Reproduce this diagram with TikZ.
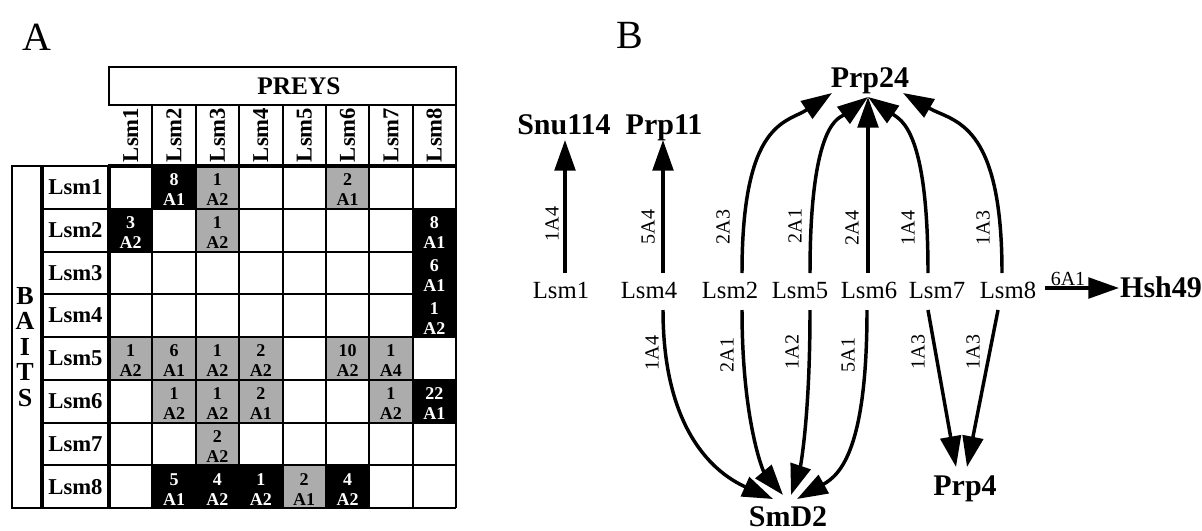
\documentclass[tikz,border=0pt]{standalone}
\usepackage{fontspec}
\setmainfont{Liberation Serif}
\usetikzlibrary{arrows.meta}
\definecolor{cellgray}{RGB}{172,172,172}

\begin{document}
\begin{tikzpicture}[x=0.75pt,y=-0.75pt,
  panel/.style={font=\fontsize{30}{36}\selectfont, inner sep=0pt},
  hdr/.style={font=\fontsize{17}{20}\selectfont\bfseries, inner sep=0pt},
  bigbold/.style={font=\fontsize{19.5}{23}\selectfont\bfseries, inner sep=0pt,
    text height=0.66em, text depth=0pt},
  celltxt/.style={font=\fontsize{13.5}{16}\selectfont\bfseries, inner sep=0pt},
  fillb/.style={fill=black}, fillg/.style={fill=cellgray},
  txtb/.style={text=white}, txtg/.style={text=black},
  gridline/.style={line width=1.5pt},
  gridbold/.style={line width=2.8pt},
  lsm/.style={font=\fontsize{18.5}{22}\selectfont, inner sep=0pt, anchor=base},
  prot/.style={font=\fontsize{22.5}{27}\selectfont\bfseries, inner sep=0pt, anchor=base},
  elab/.style={font=\fontsize{15}{18}\selectfont, inner sep=0pt, rotate=90},
  link/.style={line width=2.6pt, -{Triangle[length=23pt,width=15.5pt]}}]
\useasboundingbox (0,0) rectangle (1202,531);

% ---------------- panel A: two-hybrid matrix ----------------
\node[panel] (pA) at (37,37) {A};

% shaded and black cells with their scores
\foreach \rw/\cl/\num/\amb/\knd in {
  1/2/8/A1/b, 1/3/1/A2/g, 1/6/2/A1/g,
  2/1/3/A2/b, 2/3/1/A2/g, 2/8/8/A1/b,
  3/8/6/A1/b, 4/8/1/A2/b,
  5/1/1/A2/g, 5/2/6/A1/g, 5/3/1/A2/g, 5/4/2/A2/g, 5/6/10/A2/g, 5/7/1/A4/g,
  6/2/1/A2/g, 6/3/1/A2/g, 6/4/2/A1/g, 6/7/1/A2/g, 6/8/22/A1/b,
  7/3/2/A2/g,
  8/2/5/A1/b, 8/3/4/A2/b, 8/4/1/A2/b, 8/5/2/A1/g, 8/6/4/A2/b}{
  \fill[fill\knd] ({109+(\cl-1)*43.375},{166+(\rw-1)*42.75}) rectangle ++(43.375,42.75);
  \node[celltxt, txt\knd] (n\rw\cl) at ({109+(\cl-0.5)*43.375},{166+(\rw-1)*42.75+14}) {\num};
  \node[celltxt, txt\knd] (a\rw\cl) at ({109+(\cl-0.5)*43.375},{166+(\rw-1)*42.75+34}) {\amb};
}

% grid rules
\draw[gridline] (109,67) rectangle (456,105);
\foreach \i in {1,...,7}
  \draw[gridline] ({109+\i*43.375},105) -- ({109+\i*43.375},508);
\draw[gridline] (456,105) -- (456,508);
\foreach \j in {1,...,7}
  \draw[gridline] (42,{166+\j*42.75}) -- (456,{166+\j*42.75});
\draw[gridline] (12,508) -- (456,508);
\draw[gridline] (12,166) rectangle (42,508);
\draw[gridline] (42,166) -- (109,166);
\draw[gridbold] (108,166) -- (457,166);
\draw[gridbold] (109,166) -- (109,508);
\draw[gridbold] (42,166) -- (42,508);

% headers
\node[font=\fontsize{19}{23}\selectfont\bfseries, inner sep=0pt] (preys) at (299,86) {PREYS};
\foreach \c in {1,...,8}
  \node[hdr, rotate=90] (ch\c) at ({109+(\c-0.5)*43.375},135) {Lsm\c};
\foreach \r in {1,...,8}
  \node[hdr] (rh\r) at (75.5,{166+(\r-0.5)*42.75}) {Lsm\r};
\node[bigbold] (bB) at (25,300) {B};
\node[bigbold] (bA) at (25,325.5) {A};
\node[bigbold] (bI) at (25,351) {I};
\node[bigbold] (bT) at (25,376.5) {T};
\node[bigbold] (bS) at (25,402) {S};

% ---------------- panel B: interaction map ----------------
\node[panel] (pB) at (630,35) {B};

\node[lsm] (L1) at (561,298) {Lsm1};
\node[lsm] (L4) at (649,298) {Lsm4};
\node[lsm] (L2) at (730,298) {Lsm2};
\node[lsm] (L5) at (800,298) {Lsm5};
\node[lsm] (L6) at (869,298) {Lsm6};
\node[lsm] (L7) at (937,298) {Lsm7};
\node[lsm] (L8) at (1008,298) {Lsm8};

\node[prot] (Snu) at (564,135) {Snu114};
\node[prot] (P11) at (664,135) {Prp11};
\node[prot] (P24) at (870,88) {Prp24};
\node[prot] (P4) at (965,495) {Prp4};
\node[prot] (SmD) at (788,526) {SmD2};
\node[prot] (H49) at (1161,297) {Hsh49};

% upward links
\draw[link] ([shift={(4,-25)}]L1.base) -- ([shift={(1,5)}]Snu.base);
\draw[link] ([shift={(14,-25)}]L4.base) -- ([shift={(-1,5)}]P11.base);
\draw[link] ([shift={(12,-25)}]L2.base) .. controls +(0,-153) and +(-45,30) .. ([shift={(-38,5)}]P24.base);
\draw[link] ([shift={(10,-25)}]L5.base) .. controls +(0,-153) and +(-28,21) .. ([shift={(-2,9)}]P24.base);
\draw[link] ([shift={(-1,-25)}]L6.base) -- ([shift={(-2,9)}]P24.base);
\draw[link] ([shift={(-9,-25)}]L7.base) .. controls +(0,-143) and +(33,23) .. ([shift={(-2,9)}]P24.base);
\draw[link] ([shift={(-6,-25)}]L8.base) .. controls +(0,-153) and +(50,29) .. ([shift={(33,5)}]P24.base);

% downward links
\draw[link] ([shift={(14,12)}]L4.base) .. controls +(0,130) and +(-50,-22) .. ([shift={(-15,-27)}]SmD.base);
\draw[link] ([shift={(12,12)}]L2.base) .. controls +(0,110) and +(-20,-24) .. ([shift={(-5,-31)}]SmD.base);
\draw[link] ([shift={(10,12)}]L5.base) .. controls +(0,110) and +(9,-27) .. ([shift={(3,-31)}]SmD.base);
\draw[link] ([shift={(-2,12)}]L6.base) .. controls +(0,140) and +(43,-24) .. ([shift={(9,-27)}]SmD.base);
\draw[link] ([shift={(-9,12)}]L7.base) -- ([shift={(-9,-28)}]P4.base);
\draw[link] ([shift={(-10,12)}]L8.base) -- ([shift={(2,-28)}]P4.base);

% sideways link
\draw[link] ([shift={(37,-10)}]L8.base) -- ([shift={(-42,-9)}]H49.base);

% link scores
\node[elab] (e1) at (552,224) {1A4};
\node[elab] (e2) at (648,227) {5A4};
\node[elab] (e3) at (723,227) {2A3};
\node[elab] (e4) at (795,226) {2A1};
\node[elab] (e5) at (852,228) {2A4};
\node[elab] (e6) at (908,228) {1A4};
\node[elab] (e7) at (983,228) {1A3};
\node[elab] (e8) at (652,353) {1A4};
\node[elab] (e9) at (727,355) {2A1};
\node[elab] (e10) at (792,352) {1A2};
\node[elab] (e11) at (848,355) {5A1};
\node[elab] (e12) at (918,352) {1A3};
\node[elab] (e13) at (973,352) {1A3};
\node[font=\fontsize{15}{18}\selectfont, inner sep=0pt, anchor=base] (e14) at (1068,285) {6A1};
\end{tikzpicture}
\end{document}
